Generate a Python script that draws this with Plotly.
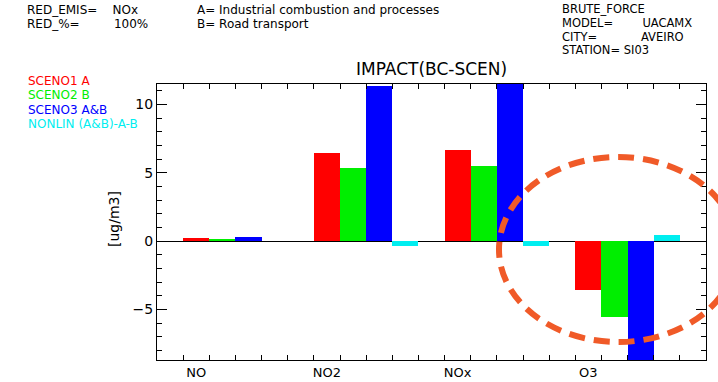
import plotly.graph_objects as go

# Pollutants on the x axis and the four scenario series (ug/m3)
categories = ["NO", "NO2", "NOx", "O3"]
sceno1_a = [0.20, 6.45, 6.65, -3.55]
sceno2_b = [0.15, 5.35, 5.50, -5.55]
sceno3_ab = [0.27, 11.35, 11.70, -8.90]
nonlin = [0.00, -0.37, -0.38, 0.48]

series_names = ["SCENO1 A", "SCENO2 B", "SCENO3 A&B", "NONLIN (A&B)-A-B"]
series_values = [sceno1_a, sceno2_b, sceno3_ab, nonlin]
series_colors = ["#FF0000", "#00EE00", "#0000FF", "#00EEF0"]

# header text: (label, padding in non-breaking spaces, value)
header_left = [("RED_EMIS=", 4, "NOx"), ("RED_%=", 9, "100%")]
header_mid = ["A= Industrial combustion and processes", "B= Road transport"]
header_right = [("BRUTE_FORCE", 0, ""), ("MODEL=", 8, "UACAMX"),
                ("CITY=", 12, "AVEIRO"), ("STATION= SI03", 0, "")]

W, H = 718, 382
L, R, T, B = 157, 12, 84, 22
PW, PH = W - L - R, H - T - B


def px(x):
    return (x - L) / PW


def py(y):
    return (H - B - y) / PH


FONT = "DejaVu Sans"
GROUP = 5  # four bars plus one empty slot per pollutant
NB = "\u00a0"


def block(lines, size, color=None):
    """Stack lines; the line pitch follows the base font, the glyphs use `size`."""
    out = []
    for i, ln in enumerate(lines):
        col = f"color:{color[i]};" if color else ""
        out.append(f'<span style="font-size:{size}px;{col}">{ln}</span>')
    return "<br>".join(out)


fig = go.Figure()
for s, (name, vals, col) in enumerate(zip(series_names, series_values, series_colors)):
    fig.add_trace(go.Bar(
        x=[g * GROUP + s + 1.5 for g in range(len(categories))],
        y=vals,
        width=1.0,
        name=name,
        marker=dict(color=col, line=dict(width=0)),
        showlegend=False,
    ))


def note(x, y, text, pitch, **kw):
    d = dict(x=px(x), y=py(y), text=text, xref="paper", yref="paper",
             xanchor="left", yanchor="top", align="left", showarrow=False,
             font=dict(family=FONT, size=pitch / 1.3, color="black"))
    d.update(kw)
    return d


ann = [
    note(25, 1, block([a + NB * n + b for a, n, b in header_left], 12), 14.4),
    note(195, 1, block(header_mid, 12), 14.4),
    note(560, 0, block([a + NB * n + b for a, n, b in header_right], 11.5), 13.8),
    note(26, 72, block(series_names, 12, series_colors), 14.4),
]

# title and y-axis label
ann.append(dict(x=px(431), y=py(69), text="IMPACT(BC-SCEN)", xref="paper", yref="paper",
                xanchor="center", yanchor="middle", showarrow=False,
                font=dict(family=FONT, size=17, color="black")))
ann.append(dict(x=px(114), y=py(219), text="[ug/m3]", textangle=-90, xref="paper", yref="paper",
                xanchor="center", yanchor="middle", showarrow=False,
                font=dict(family=FONT, size=14, color="black")))

fig.update_layout(
    width=W, height=H,
    margin=dict(l=L, r=R, t=T, b=B, pad=0, autoexpand=False),
    paper_bgcolor="white", plot_bgcolor="white",
    barmode="overlay", bargap=0,
    annotations=ann,
    font=dict(family=FONT, size=13, color="black"),
    xaxis=dict(
        range=[0, len(categories) * GROUP + 1],
        tickmode="array",
        tickvals=[g * GROUP + 1.5 for g in range(len(categories))],
        ticktext=categories,
        ticks="", showgrid=False, zeroline=False, automargin=False,
        showline=True, linecolor="black", linewidth=1, mirror="ticks",
        tickfont=dict(family=FONT, size=13, color="black"),
        minor=dict(tickmode="array", tickvals=list(range(1, len(categories) * GROUP + 1)),
                   ticks="inside", ticklen=5, tickcolor="black", showgrid=False),
        fixedrange=True,
    ),
    yaxis=dict(
        range=[-8.7, 11.49],
        tickmode="array", tickvals=[-5, 0, 5, 10], ticktext=["\u22125", "0", "5", "10"],
        ticks="inside", ticklen=10, tickcolor="black", automargin=False,
        showgrid=False, zeroline=True, zerolinecolor="black", zerolinewidth=1,
        showline=True, linecolor="black", linewidth=1, mirror="ticks",
        tickfont=dict(family=FONT, size=14, color="black"),
        minor=dict(tickmode="linear", tick0=0, dtick=1, ticks="inside", ticklen=5,
                   tickcolor="black", showgrid=False),
        fixedrange=True,
    ),
    shapes=[dict(
        type="circle", xref="paper", yref="paper",
        x0=px(499), x1=px(737), y0=py(342), y1=py(157),
        line=dict(color="#F05A28", width=6, dash="16px,9px"),
        fillcolor="rgba(0,0,0,0)", layer="above",
    )],
)

fig.write_html("out.html")
